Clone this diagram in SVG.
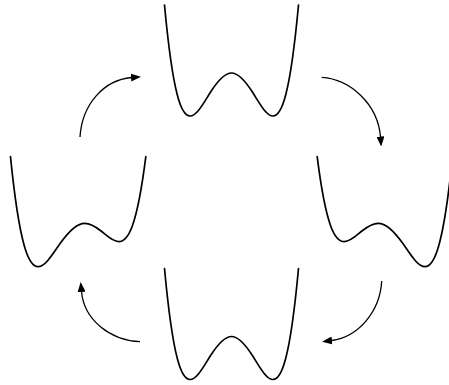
<svg xmlns="http://www.w3.org/2000/svg" xmlns:xlink="http://www.w3.org/1999/xlink" width="449" height="385" viewBox="0 0 449 385">
<style>
.well{fill:none;stroke:#000;stroke-width:1.7;stroke-linecap:round;stroke-linejoin:round}
.arr{fill:none;stroke:#000;stroke-width:1.3}
</style>
<defs>
<marker id="ah" viewBox="0 0 10 8" refX="0.5" refY="4" markerWidth="10" markerHeight="8" markerUnits="userSpaceOnUse" orient="auto">
<path d="M0,0 L10,4 L0,8 z" fill="#000"/>
</marker>
<path id="sym" d="M -67,-111 C -58.5,-19.61 -50,0 -41.5,0 C -34.58,0 -27.67,-13.44 -20.75,-24.19 C -13.83,-34.94 -6.92,-43 0,-43 C 6.92,-43 13.83,-34.94 20.75,-24.19 C 27.67,-13.44 34.58,0 41.5,0 C 50,0 58.5,-19.61 67,-111"/>
<path id="tilt" d="M -70.03,-67.28 C -60.835,23.6 -51.645,42.74 -42.45,42.74 C -35.046,42.74 -27.639,29.85 -20.235,19.35 C -12.057,7.757 -3.88,-0.663 4.298,-0.663 C 9.61,-0.663 14.923,2.562 20.235,6.798 C 26.206,11.559 32.179,17.68 38.15,17.68 C 47.202,17.68 56.258,4.76 65.31,-67.25"/>
</defs>
<rect width="449" height="385" fill="#fff"/>
<g id="well-top"><use xlink:href="#sym" class="well" transform="translate(231.5,116)"/></g>
<g id="well-right"><use xlink:href="#tilt" class="well" transform="translate(382.5,223.96) scale(-1,1)"/></g>
<g id="well-bottom"><use xlink:href="#sym" class="well" transform="translate(231.5,379.5)"/></g>
<g id="well-left"><use xlink:href="#tilt" class="well" transform="translate(80.5,223.96)"/></g>
<g id="connectors">
<path class="arr" marker-end="url(#ah)" d="M 80,137 C 82,104 104,80 131.5,77.5"/>
<path class="arr" marker-end="url(#ah)" d="M 321.7,77.3 C 350,79 378,104 380.5,137"/>
<path class="arr" marker-end="url(#ah)" d="M 381.7,281 C 380,312 358,337 331.5,340.5"/>
<path class="arr" marker-end="url(#ah)" d="M 140,341.7 C 110,340 84,320 81.5,291.5"/>
</g>
</svg>
